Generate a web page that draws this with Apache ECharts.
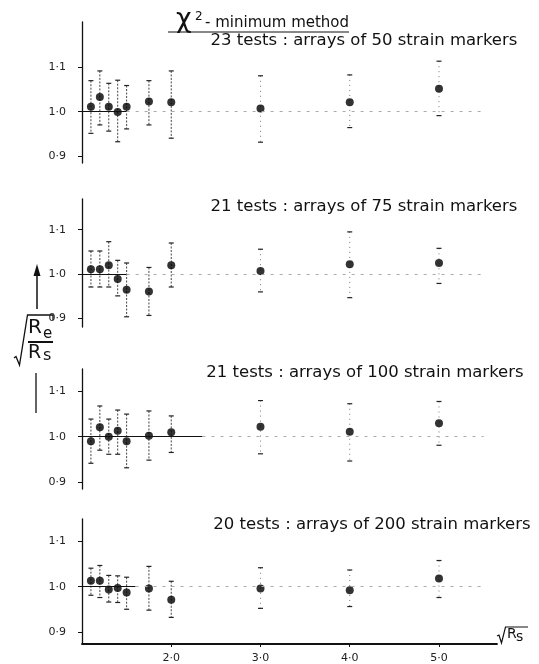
<!DOCTYPE html>
<html>
<head>
<meta charset="utf-8">
<script src="https://cdn.jsdelivr.net/npm/echarts@6/dist/echarts.min.js"></script>
<style>
html,body{margin:0;padding:0;background:#fff;}
#chart{width:539px;height:664px;}
</style>
</head>
<body>
<div id="chart"></div>
<script>
// ---- data ----
const xValues = [1.1, 1.2, 1.3, 1.4, 1.5, 1.75, 2.0, 3.0, 4.0, 5.0];

const panelTitles = [
  '23 tests : arrays of 50 strain markers',
  '21 tests : arrays of 75 strain markers',
  '21 tests : arrays of 100 strain markers',
  '20 tests : arrays of 200 strain markers'
];

const p1Mean = [1.011, 1.033, 1.011, 0.999, 1.011, 1.023, 1.021, 1.007, 1.021, 1.052];
const p1High = [1.070, 1.092, 1.064, 1.071, 1.059, 1.070, 1.092, 1.081, 1.083, 1.114];
const p1Low  = [0.951, 0.970, 0.956, 0.932, 0.961, 0.970, 0.940, 0.931, 0.964, 0.991];

const p2Mean = [1.011, 1.011, 1.020, 0.989, 0.965, 0.961, 1.020, 1.007, 1.022, 1.025];
const p2High = [1.052, 1.052, 1.073, 1.031, 1.025, 1.015, 1.070, 1.056, 1.095, 1.058];
const p2Low  = [0.971, 0.971, 0.971, 0.951, 0.904, 0.907, 0.971, 0.960, 0.947, 0.979];

const p3Mean = [0.990, 1.021, 1.000, 1.013, 0.990, 1.002, 1.010, 1.022, 1.011, 1.030];
const p3High = [1.039, 1.068, 1.039, 1.059, 1.050, 1.057, 1.046, 1.080, 1.073, 1.078];
const p3Low  = [0.941, 0.970, 0.961, 0.961, 0.931, 0.948, 0.965, 0.962, 0.946, 0.981];

const p4Mean = [1.013, 1.013, 0.994, 0.997, 0.987, 0.996, 0.971, 0.996, 0.992, 1.018];
const p4High = [1.041, 1.047, 1.025, 1.024, 1.021, 1.045, 1.012, 1.042, 1.037, 1.058];
const p4Low  = [0.981, 0.976, 0.966, 0.965, 0.950, 0.948, 0.932, 0.952, 0.956, 0.976];

const yTickValues = [0.9, 1.0, 1.1];
const xTickValues = [2.0, 3.0, 4.0, 5.0];
const referenceValue = 1.0;

// ---- layout ----
const FONT = 'DejaVu Sans';
const panels = [
  {mean: p1Mean, high: p1High, low: p1Low, top: 22, height: 141, min: 0.884, max: 1.2025, solidEnd: 1.5, titleX: 364, titleY: 41},
  {mean: p2Mean, high: p2High, low: p2Low, top: 199, height: 128, min: 0.881, max: 1.169, solidEnd: 1.5, titleX: 364, titleY: 207},
  {mean: p3Mean, high: p3High, low: p3Low, top: 369, height: 120, min: 0.884, max: 1.150, solidEnd: 2.35, titleX: 365, titleY: 373},
  {mean: p4Mean, high: p4High, low: p4Low, top: 519, height: 125, min: 0.873, max: 1.150, solidEnd: 1.6, titleX: 372, titleY: 525}
];
const fmt = v => v.toFixed(1).replace('.', '\u00B7');

const grids = [], xAxes = [], yAxes = [], series = [], graphics = [];

panels.forEach((p, i) => {
  const last = i === panels.length - 1;
  grids.push({left: 82, right: 42, top: p.top, height: p.height});
  xAxes.push({
    type: 'value', gridIndex: i, min: 1.0, max: 5.65,
    show: last,
    axisLine: {show: last, onZero: false, lineStyle: {color: '#111', width: 1.8}},
    axisTick: {show: last, customValues: xTickValues, length: 3, lineStyle: {color: '#111'}},
    axisLabel: {show: last, customValues: xTickValues, formatter: fmt, fontFamily: FONT, fontSize: 11, color: '#222', margin: 9},
    splitLine: {show: false}
  });
  yAxes.push({
    type: 'value', gridIndex: i, min: p.min, max: p.max,
    axisLine: {show: true, onZero: false, lineStyle: {color: '#111', width: 1.3}},
    axisTick: {show: true, customValues: yTickValues, length: 4, lineStyle: {color: '#111'}},
    axisLabel: {customValues: yTickValues, formatter: fmt, fontFamily: FONT, fontSize: 11, color: '#222', margin: 16},
    splitLine: {show: false}
  });
  // error bars
  series.push({
    type: 'custom', xAxisIndex: i, yAxisIndex: i, clip: false, silent: true, z: 2,
    data: xValues.map((x, k) => [x, p.low[k], p.high[k]]),
    encode: {x: 0, y: [1, 2]},
    renderItem: (params, api) => {
      const x = api.value(0);
      const pl = api.coord([x, api.value(1)]);
      const ph = api.coord([x, api.value(2)]);
      const w = 2.5;
      const far = x > 2.5;
      const col = far ? '#777' : '#444';
      return {type: 'group', children: [
        {type: 'line', shape: {x1: ph[0], y1: ph[1], x2: pl[0], y2: pl[1]},
         style: {stroke: col, lineWidth: 1, lineDash: far ? [1, 4] : [2, 1.5]}},
        {type: 'line', shape: {x1: ph[0] - w, y1: ph[1], x2: ph[0] + w, y2: ph[1]}, style: {stroke: '#222', lineWidth: 1.2}},
        {type: 'line', shape: {x1: pl[0] - w, y1: pl[1], x2: pl[0] + w, y2: pl[1]}, style: {stroke: '#222', lineWidth: 1.2}}
      ]};
    }
  });
  // points + reference line
  series.push({
    type: 'scatter', xAxisIndex: i, yAxisIndex: i, z: 3,
    symbol: 'circle', symbolSize: 8,
    itemStyle: {color: '#000'},
    data: xValues.map((x, k) => [x, p.mean[k]]),
    markLine: {
      silent: true, symbol: 'none', label: {show: false}, animation: false,
      data: [
        [{coord: [1.0, referenceValue], lineStyle: {color: '#111', width: 1.2, type: 'solid'}}, {coord: [p.solidEnd, referenceValue]}],
        [{coord: [p.solidEnd, referenceValue], lineStyle: {color: '#aaa', width: 1, type: [3, 6]}}, {coord: [5.5, referenceValue]}]
      ]
    }
  });
  graphics.push({type: 'text', x: p.titleX, y: p.titleY,
    style: {text: panelTitles[i], font: '16.5px "DejaVu Sans"', fill: '#111', align: 'center', verticalAlign: 'middle'}});
});

// main title
graphics.push(
  {type: 'text', x: 176, y: 20, style: {text: '\u03C7', font: '27px "DejaVu Sans"', fill: '#111', verticalAlign: 'middle'}},
  {type: 'text', x: 195, y: 17, style: {text: '2', font: '12px "DejaVu Sans"', fill: '#111', verticalAlign: 'middle'}},
  {type: 'text', x: 205, y: 23, style: {text: '- minimum method', font: '15px "DejaVu Sans"', fill: '#111', verticalAlign: 'middle'}},
  {type: 'line', shape: {x1: 168, y1: 32, x2: 349, y2: 32}, style: {stroke: '#111', lineWidth: 1.2}}
);

// y-axis label: arrow, sqrt(Re/Rs), bar
graphics.push(
  {type: 'line', shape: {x1: 37, y1: 309, x2: 37, y2: 272}, style: {stroke: '#111', lineWidth: 1.5}},
  {type: 'polygon', shape: {points: [[37, 264], [33.5, 276], [40.5, 276]]}, style: {fill: '#111'}},
  {type: 'polyline', shape: {points: [[14, 358], [16, 356.5], [19.5, 365], [27.5, 315], [53, 315], [53, 320]]}, style: {stroke: '#111', lineWidth: 1.3, fill: null}},
  {type: 'text', x: 28, y: 328, style: {text: 'R', font: '20px "DejaVu Sans"', fill: '#111', verticalAlign: 'middle'}},
  {type: 'text', x: 43, y: 334, style: {text: 'e', font: '15px "DejaVu Sans"', fill: '#111', verticalAlign: 'middle'}},
  {type: 'line', shape: {x1: 28, y1: 342, x2: 53, y2: 342}, style: {stroke: '#111', lineWidth: 2}},
  {type: 'text', x: 28, y: 353, style: {text: 'R', font: '19px "DejaVu Sans"', fill: '#111', verticalAlign: 'middle'}},
  {type: 'text', x: 43, y: 356, style: {text: 's', font: '16px "DejaVu Sans"', fill: '#111', verticalAlign: 'middle'}},
  {type: 'line', shape: {x1: 36, y1: 373, x2: 36, y2: 413}, style: {stroke: '#111', lineWidth: 1.3}}
);

// x-axis label sqrt(Rs)
graphics.push(
  {type: 'polyline', shape: {points: [[497, 636], [499, 635], [501.5, 643], [505.5, 627], [528, 627]]}, style: {stroke: '#111', lineWidth: 1.2, fill: null}},
  {type: 'text', x: 507, y: 634.5, style: {text: 'R', font: '14px "DejaVu Sans"', fill: '#111', verticalAlign: 'middle'}},
  {type: 'text', x: 516, y: 637.5, style: {text: 's', font: '14px "DejaVu Sans"', fill: '#111', verticalAlign: 'middle'}}
);

const chart = echarts.init(document.getElementById('chart'), null, {renderer: 'canvas'});
chart.setOption({
  animation: false,
  backgroundColor: '#fff',
  grid: grids,
  xAxis: xAxes,
  yAxis: yAxes,
  series: series,
  graphic: graphics
});
</script>
</body>
</html>
